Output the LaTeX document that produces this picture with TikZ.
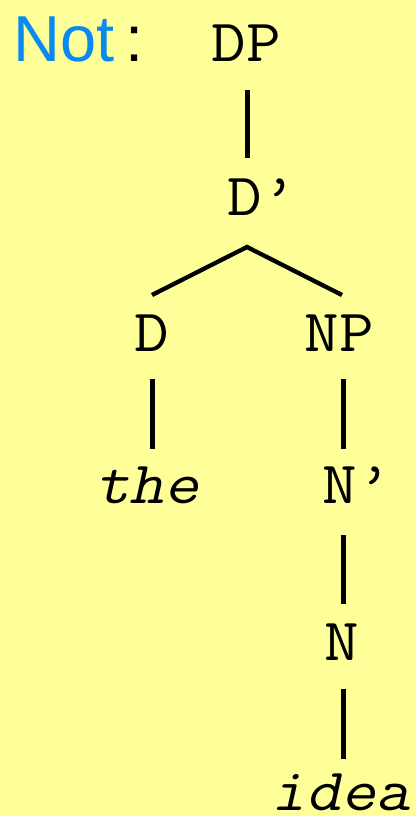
\documentclass[tikz,border=0pt]{standalone}
\usepackage{fontspec}
\setmainfont{Liberation Sans}
\newfontfamily\treefont[FakeStretch=1.12]{Latin Modern Mono}
\newfontfamily\treeslant[FakeStretch=1.12,FakeSlant=0.22]{Latin Modern Mono}
\definecolor{paper}{RGB}{255,255,153}
\definecolor{notblue}{RGB}{8,138,240}
\begin{document}
\begin{tikzpicture}[x=1pt,y=-1pt,
  label/.style={inner sep=0pt,anchor=base,font=\treefont\fontsize{60}{60}\selectfont},
  word/.style={label,font=\treeslant\fontsize{60}{60}\selectfont},
  stem/.style={line width=5pt},
  branch/.style={line width=4.3pt}]
  % page
  \fill[paper] (0,0) rectangle (416,816);
  \useasboundingbox (0,0) rectangle (416,816);

  % heading
  \node[inner sep=0pt,anchor=base west,text=notblue,font=\fontsize{65}{65}\selectfont] (not) at (13,62) {Not};
  \node[inner sep=0pt,anchor=base west,font=\fontsize{65}{65}\selectfont] (colon) at (125,62) {:};

  % tree labels
  \node[label] (DP)   at (246,62)  {DP};
  \node[label] (Dbar) at (262,215) {D’};
  \node[label] (D)    at (152,351) {D};
  \node[label] (NP)   at (339,351) {NP};
  \node[word]  (the)  at (147,503) {the};
  \node[label] (Nbar) at (357,503) {N’};
  \node[label] (N)    at (342,660) {N};
  \node[word]  (idea) at (341,810) {idea};

  % attachment points of the branches
  \coordinate (DP-foot)   at (247,90);
  \coordinate (Dbar-head) at (247,158);
  \coordinate (Dbar-foot) at (247,247);
  \coordinate (D-head)    at (152,295);
  \coordinate (NP-head)   at (342,295);
  \coordinate (D-foot)    at (152,379);
  \coordinate (the-head)  at (152,449);
  \coordinate (NP-foot)   at (343,379);
  \coordinate (Nbar-head) at (343,449);
  \coordinate (Nbar-foot) at (343,535);
  \coordinate (N-head)    at (343,604);
  \coordinate (N-foot)    at (343,689);
  \coordinate (idea-head) at (343,759);

  % branches
  \draw[stem] (DP-foot) -- (Dbar-head);
  \draw[branch] (D-head) -- (Dbar-foot) -- (NP-head);
  \draw[stem] (D-foot) -- (the-head);
  \draw[stem] (NP-foot) -- (Nbar-head);
  \draw[stem] (Nbar-foot) -- (N-head);
  \draw[stem] (N-foot) -- (idea-head);
\end{tikzpicture}
\end{document}
